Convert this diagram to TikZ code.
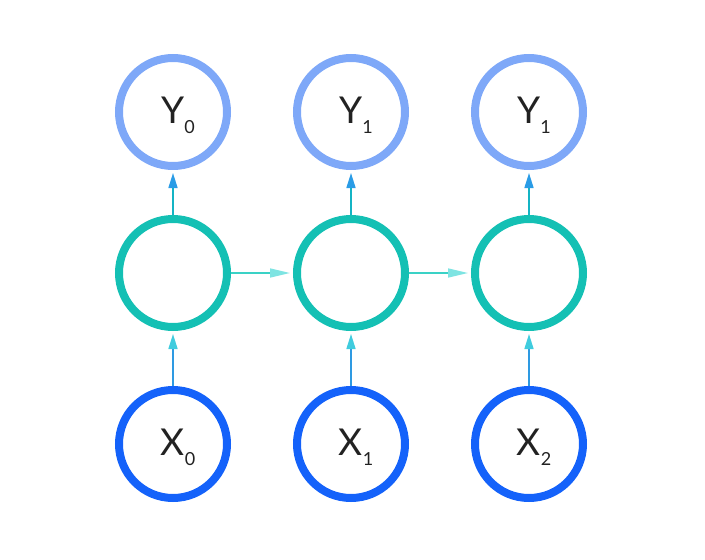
\documentclass[tikz,border=0pt]{standalone}
\usepackage{fontspec}
\setmainfont{Lato}
\usetikzlibrary{positioning, arrows.meta}
\definecolor{outblue}{HTML}{7EA8F8}
\definecolor{hidteal}{HTML}{14C0B4}
\definecolor{inblue}{HTML}{1462FA}
\definecolor{txtgray}{HTML}{222222}
\definecolor{upline}{HTML}{14B4C4}
\definecolor{uptip}{HTML}{2A9CE6}
\definecolor{inline}{HTML}{2E9AE2}
\definecolor{intip}{HTML}{40CCDE}
\definecolor{sideline}{HTML}{3AD2C6}
\definecolor{sidetip}{HTML}{7EE4E2}
\newcommand{\unitlabel}[2]{{\fontsize{37}{37}\selectfont #1}\raisebox{-10pt}{\fontsize{18}{18}\selectfont #2}}
\begin{document}
\begin{tikzpicture}[x=1pt, y=-1pt]
	\tikzset{
		unit/.style={circle, draw, line width=8pt, minimum size=108pt, inner sep=0pt},
		outunit/.style={unit, draw=outblue},
		hidunit/.style={unit, draw=hidteal},
		inunit/.style={unit, draw=inblue},
		lbl/.style={text=txtgray, inner sep=0pt, xshift=5pt, yshift=-3pt},
		uparrow/.style={line width=1.6pt, shorten >=3pt, -{Triangle[length=15pt, width=9pt, color=#1]}},
		sidearrow/.style={line width=1.6pt, shorten >=3pt, -{Triangle[length=20pt, width=9pt, color=#1]}}
	}
	\useasboundingbox (0,0) rectangle (705,560);
	\foreach \i/\x/\s in {0/173/0, 1/351/1, 2/529/1} {
		\node[outunit, label={[lbl]center:\unitlabel{Y}{\s}}] (y\i) at (\x, 112) {};
		\node[hidunit] (h\i) at (\x, 273) {};
		\node[inunit, label={[lbl]center:\unitlabel{X}{\i}}] (x\i) at (\x, 444) {};
	}
	
	% input -> hidden -> output
	\foreach \i in {0,1,2} {
		\draw[uparrow=uptip, draw=upline] (h\i.north) -- (y\i.south);
		\draw[uparrow=intip, draw=inline] (x\i.north) -- (h\i.south);
	}
	
	% hidden -> hidden
	\draw[sidearrow=sidetip, draw=sideline] (h0.east) -- (h1.west);
	\draw[sidearrow=sidetip, draw=sideline] (h1.east) -- (h2.west);
\end{tikzpicture}
\end{document}
